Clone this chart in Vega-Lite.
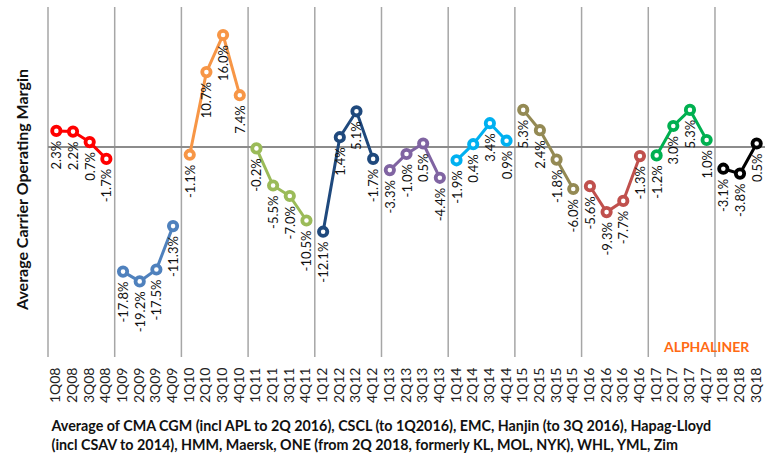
{
  "$schema": "https://vega.github.io/schema/vega-lite/v6.json",
  "width": 717,
  "height": 350,
  "autosize": {"type": "none"},
  "padding": {"left": 48, "top": 7, "right": 18, "bottom": 101},
  "background": "white",
  "config": {
    "view": {"stroke": null},
    "font": "Lato",
    "locale": {"number": {"decimal": ".", "thousands": ",", "grouping": [3], "currency": ["$", ""], "minus": "-"}}
  },
  "datasets": {
    "margins": [
      {"q": "1Q08", "year": "2008", "v": 0.023},
      {"q": "2Q08", "year": "2008", "v": 0.022},
      {"q": "3Q08", "year": "2008", "v": 0.007},
      {"q": "4Q08", "year": "2008", "v": -0.017},
      {"q": "1Q09", "year": "2009", "v": -0.178},
      {"q": "2Q09", "year": "2009", "v": -0.192},
      {"q": "3Q09", "year": "2009", "v": -0.175},
      {"q": "4Q09", "year": "2009", "v": -0.113},
      {"q": "1Q10", "year": "2010", "v": -0.011},
      {"q": "2Q10", "year": "2010", "v": 0.107},
      {"q": "3Q10", "year": "2010", "v": 0.160},
      {"q": "4Q10", "year": "2010", "v": 0.074},
      {"q": "1Q11", "year": "2011", "v": -0.002},
      {"q": "2Q11", "year": "2011", "v": -0.055},
      {"q": "3Q11", "year": "2011", "v": -0.070},
      {"q": "4Q11", "year": "2011", "v": -0.105},
      {"q": "1Q12", "year": "2012", "v": -0.121},
      {"q": "2Q12", "year": "2012", "v": 0.014},
      {"q": "3Q12", "year": "2012", "v": 0.051},
      {"q": "4Q12", "year": "2012", "v": -0.017},
      {"q": "1Q13", "year": "2013", "v": -0.033},
      {"q": "2Q13", "year": "2013", "v": -0.010},
      {"q": "3Q13", "year": "2013", "v": 0.005},
      {"q": "4Q13", "year": "2013", "v": -0.044},
      {"q": "1Q14", "year": "2014", "v": -0.019},
      {"q": "2Q14", "year": "2014", "v": 0.004},
      {"q": "3Q14", "year": "2014", "v": 0.034},
      {"q": "4Q14", "year": "2014", "v": 0.009},
      {"q": "1Q15", "year": "2015", "v": 0.053},
      {"q": "2Q15", "year": "2015", "v": 0.024},
      {"q": "3Q15", "year": "2015", "v": -0.018},
      {"q": "4Q15", "year": "2015", "v": -0.060},
      {"q": "1Q16", "year": "2016", "v": -0.056},
      {"q": "2Q16", "year": "2016", "v": -0.093},
      {"q": "3Q16", "year": "2016", "v": -0.077},
      {"q": "4Q16", "year": "2016", "v": -0.013},
      {"q": "1Q17", "year": "2017", "v": -0.012},
      {"q": "2Q17", "year": "2017", "v": 0.030},
      {"q": "3Q17", "year": "2017", "v": 0.053},
      {"q": "4Q17", "year": "2017", "v": 0.010},
      {"q": "1Q18", "year": "2018", "v": -0.031},
      {"q": "2Q18", "year": "2018", "v": -0.038},
      {"q": "3Q18", "year": "2018", "v": 0.005}
    ],
    "bounds": [
      {"q": "1Q08"}, {"q": "1Q09"}, {"q": "1Q10"}, {"q": "1Q11"}, {"q": "1Q12"}, {"q": "1Q13"},
      {"q": "1Q14"}, {"q": "1Q15"}, {"q": "1Q16"}, {"q": "1Q17"}, {"q": "1Q18"}
    ]
  },
  "layer": [
    {
      "data": {"name": "bounds"},
      "mark": {"type": "rule", "color": "#a6a6a6", "strokeWidth": 1.5},
      "encoding": {
        "x": {"field": "q", "type": "nominal", "sort": null, "bandPosition": 0},
        "y": {"datum": 0.2, "type": "quantitative"},
        "y2": {"datum": -0.3}
      }
    },
    {
      "data": {"name": "margins"},
      "mark": {"type": "rule", "color": "#8c8c8c", "strokeWidth": 2},
      "encoding": {
        "y": {"datum": 0, "type": "quantitative"}
      }
    },
    {
      "data": {"name": "margins"},
      "mark": {"type": "line", "strokeWidth": 3},
      "encoding": {
        "x": {
          "field": "q",
          "type": "nominal",
          "sort": null,
          "scale": {
            "domain": ["1Q08","2Q08","3Q08","4Q08","1Q09","2Q09","3Q09","4Q09","1Q10","2Q10","3Q10","4Q10","1Q11","2Q11","3Q11","4Q11","1Q12","2Q12","3Q12","4Q12","1Q13","2Q13","3Q13","4Q13","1Q14","2Q14","3Q14","4Q14","1Q15","2Q15","3Q15","4Q15","1Q16","2Q16","3Q16","4Q16","1Q17","2Q17","3Q17","4Q17","1Q18","2Q18","3Q18"],
            "paddingInner": 0,
            "paddingOuter": 0
          },
          "axis": {
            "labelAngle": -90,
            "labelFontSize": 14,
            "labelColor": "#222222",
            "labelPadding": 10,
            "ticks": false,
            "domain": false,
            "grid": false,
            "title": [
              "Average of CMA CGM (incl APL to 2Q 2016), CSCL (to 1Q2016), EMC, Hanjin (to 3Q 2016), Hapag-Lloyd",
              "(incl CSAV to 2014), HMM,  Maersk, ONE (from 2Q 2018, formerly KL, MOL, NYK), WHL, YML, Zim"
            ],
            "titleFont": "Lato",
            "titleFontSize": 14.3,
            "titleFontWeight": "bold",
            "titleColor": "#111111",
            "titleAnchor": "start",
            "titleAlign": "left",
            "titleX": 3,
            "titlePadding": 17,
            "titleLineHeight": 19
          }
        },
        "y": {
          "field": "v",
          "type": "quantitative",
          "scale": {"domain": [-0.3, 0.2], "nice": false, "zero": false},
          "axis": {
            "labels": false,
            "ticks": false,
            "domain": false,
            "grid": false,
            "title": "Average Carrier Operating Margin",
            "titleFont": "Lato",
            "titleFontSize": 16,
            "titleFontWeight": "bold",
            "titleColor": "#111111",
            "titleX": -26,
            "titleY": 182,
            "titleBaseline": "middle",
            "titleAngle": -90
          }
        },
        "color": {
          "field": "year",
          "type": "nominal",
          "scale": {
            "domain": ["2008", "2009", "2010", "2011", "2012", "2013", "2014", "2015", "2016", "2017", "2018"],
            "range": ["#ff0000", "#4f81bd", "#f79646", "#9bbb59", "#1f497d", "#8064a2", "#00b0f0", "#948a54", "#c0504d", "#00b050", "#000000"]
          },
          "legend": null
        },
        "detail": {"field": "year"}
      }
    },
    {
      "data": {"name": "margins"},
      "mark": {"type": "point", "filled": false, "fill": "white", "fillOpacity": 1, "strokeWidth": 3.8, "size": 70, "opacity": 1},
      "encoding": {
        "x": {"field": "q", "type": "nominal", "sort": null},
        "y": {"field": "v", "type": "quantitative"},
        "stroke": {"field": "year", "type": "nominal", "legend": null,
          "scale": {
            "domain": ["2008", "2009", "2010", "2011", "2012", "2013", "2014", "2015", "2016", "2017", "2018"],
            "range": ["#ff0000", "#4f81bd", "#f79646", "#9bbb59", "#1f497d", "#8064a2", "#00b0f0", "#948a54", "#c0504d", "#00b050", "#000000"]
          }
        }
      }
    },
    {
      "data": {"name": "margins"},
      "mark": {"type": "text", "angle": 270, "align": "right", "baseline": "middle", "dx": -10, "dy": 1, "fontSize": 13, "color": "#111111"},
      "encoding": {
        "x": {"field": "q", "type": "nominal", "sort": null},
        "y": {"field": "v", "type": "quantitative"},
        "text": {"field": "v", "type": "quantitative", "format": ".1%"}
      }
    },
    {
      "data": {"values": [{"label": "ALPHALINER", "q": "4Q17", "v": -0.287}]},
      "mark": {"type": "text", "fontSize": 14, "fontWeight": "bold", "color": "#ff6a13", "align": "center", "baseline": "middle"},
      "encoding": {
        "x": {"field": "q", "type": "nominal", "sort": null},
        "y": {"field": "v", "type": "quantitative"},
        "text": {"field": "label"}
      }
    }
  ]
}
